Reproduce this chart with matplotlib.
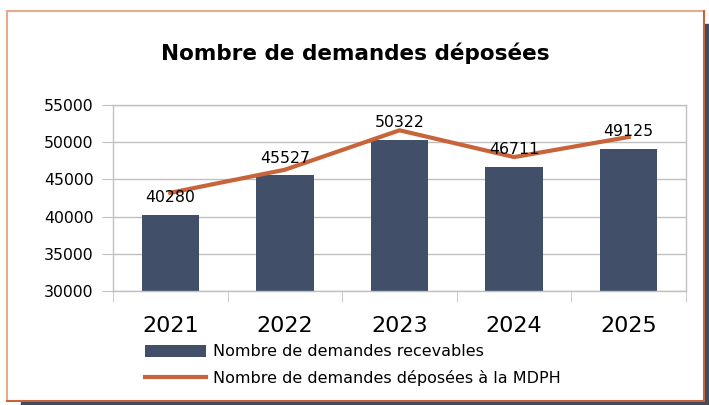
import matplotlib.pyplot as plt
from matplotlib.patches import Rectangle
from matplotlib.lines import Line2D
import numpy as np

# Données
annees = ['2021', '2022', '2023', '2024', '2025']
recevables = [40280, 45527, 50322, 46711, 49125]
deposees = [43200, 46300, 51600, 48000, 50700]

col_barre = '#415068'
col_ligne = '#c8643a'
col_grille = '#c0c0c0'

W, H = 709, 405
fig = plt.figure(figsize=(W / 100, H / 100), dpi=100)


def px(x0, y0, x1, y1):
    # rectangle en pixels (haut-gauche) -> coordonnées figure
    return (x0 / W, 1 - y1 / H), (x1 - x0) / W, (y1 - y0) / H


# Ombre + cadre
xy, w, h = px(21, 24, 709, 405)
fig.patches.append(Rectangle(xy, w, h, transform=fig.transFigure, color='#3f4b5e', zorder=0))
xy, w, h = px(7.5, 10.5, 703.5, 400.5)
fig.patches.append(Rectangle(xy, w, h, transform=fig.transFigure, facecolor='white',
                             edgecolor='none', zorder=1))
for xs, ys, c in [([7.5, 7.5], [400.5, 10.5], '#e8aa90'), ([7.5, 703.5], [10.5, 10.5], '#e8aa90'),
                  ([703.5, 703.5], [10.5, 400.5], '#c8643a'), ([7.5, 703.5], [400.5, 400.5], '#c8643a')]:
    fig.lines.append(Line2D([x / W for x in xs], [1 - y / H for y in ys], transform=fig.transFigure,
                            color=c, lw=1.5, zorder=2))

ax = fig.add_axes([113 / W, 1 - 291 / H, (686 - 113) / W, (291 - 105) / H])
ax.set_zorder(3)
ax.patch.set_alpha(0)

x = np.arange(len(annees))
b = ax.bar(x, recevables, width=0.5, color=col_barre, zorder=2, label='Nombre de demandes recevables')
l, = ax.plot(x, deposees, color=col_ligne, lw=3, zorder=3, label='Nombre de demandes déposées à la MDPH')

for xi, v in zip(x, recevables):
    ax.annotate(str(v), (xi, v), xytext=(0, 17), textcoords='offset pixels',
                ha='center', va='center', fontsize=11.3, zorder=4)

ax.set_xlim(-0.5, 4.5)
ax.set_ylim(30000, 55000)
ax.set_yticks(np.arange(30000, 55001, 5000))
ax.yaxis.grid(True, color=col_grille, lw=1)
ax.set_axisbelow(True)
for s in ax.spines.values():
    s.set_color(col_grille)
    s.set_linewidth(1)

ax.set_xticks(x)
ax.set_xticklabels(annees, fontsize=16)
ax.set_xticks(np.arange(-0.5, 4.6, 1), minor=True)
ax.tick_params(axis='x', which='major', length=0, pad=18)
ax.tick_params(axis='x', which='minor', length=8, color=col_grille)
ax.tick_params(axis='y', length=8, color=col_grille, labelsize=11.3, pad=6)

fig.text(355 / W, 1 - 53 / H, 'Nombre de demandes déposées', ha='center', va='center',
         fontsize=15.5, fontweight='bold', zorder=4)

leg = ax.legend([b, l], [b.get_label(), l.get_label()], loc='upper left',
                bbox_to_anchor=(131 / W, 1 - 330 / H),
                bbox_transform=fig.transFigure, frameon=False, fontsize=11.5,
                handlelength=3.8, handleheight=0.8, labelspacing=0.65, handletextpad=0.45)

fig.savefig('out.png', dpi=100)
